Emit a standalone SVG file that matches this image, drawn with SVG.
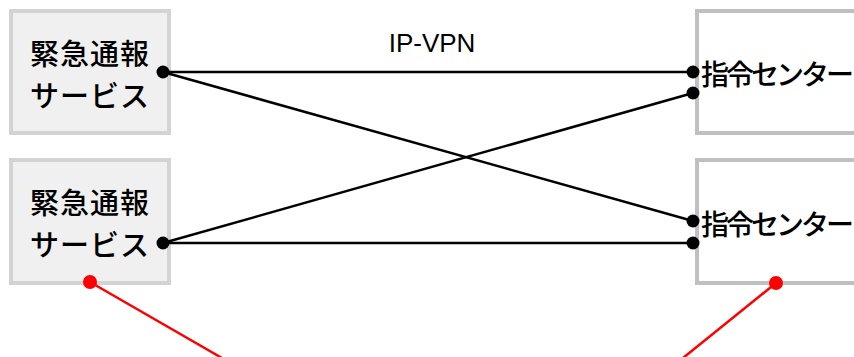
<svg xmlns="http://www.w3.org/2000/svg" width="854" height="357" viewBox="0 0 854 357">
<style>
.svc rect{fill:#f0f0f0;stroke:#d3d3d3;stroke-width:4}
.ctr rect{fill:#ffffff;stroke:#c0c0c0;stroke-width:4}
.svc text{font-family:"Noto Sans CJK JP","Noto Sans",sans-serif;font-size:29px;font-weight:500;letter-spacing:1px;fill:#000;text-anchor:middle}
.ctr text{font-family:"Noto Sans CJK JP","Noto Sans",sans-serif;font-size:28px;font-weight:500;letter-spacing:-3px;fill:#000}
.ln{stroke:#000;stroke-width:2.5;fill:none}
.red{stroke:#ff0000;stroke-width:2.5;fill:none}
.dot{fill:#000}
.rdot{fill:#ff0000}
.lbl{font-family:"Liberation Sans",Arial,sans-serif;font-size:26px;fill:#000;text-anchor:middle}
</style>
<g id="service1" class="svc">
<rect x="11" y="11" width="158" height="122"/>
<text x="90" y="64.5">緊急通報</text>
<text x="90" y="106.5">サービス</text>
</g>
<g id="service2" class="svc">
<rect x="11" y="160" width="158" height="123"/>
<text x="90" y="213.5">緊急通報</text>
<text x="90" y="255.5">サービス</text>
</g>
<g id="center1" class="ctr">
<rect x="697" y="11" width="200" height="122"/>
<text x="701" y="85">指令センター</text>
</g>
<g id="center2" class="ctr">
<rect x="697" y="160" width="200" height="123"/>
<text x="701" y="235">指令センター</text>
</g>
<g id="connectors">
<line class="ln" x1="163" y1="72" x2="693" y2="72"/>
<line class="ln" x1="163" y1="72" x2="693" y2="221"/>
<line class="ln" x1="163" y1="243" x2="693" y2="93"/>
<line class="ln" x1="163" y1="243" x2="693" y2="243"/>
<circle class="dot" cx="163" cy="72" r="6.5"/>
<circle class="dot" cx="163" cy="243" r="6.5"/>
<circle class="dot" cx="693" cy="72" r="6.5"/>
<circle class="dot" cx="693" cy="93" r="6.5"/>
<circle class="dot" cx="693" cy="221" r="6.5"/>
<circle class="dot" cx="693" cy="243" r="6.5"/>
<text class="lbl" x="432" y="52">IP-VPN</text>
<line class="red" x1="90" y1="282" x2="222" y2="358"/>
<line class="red" x1="776" y1="283" x2="683" y2="358"/>
<circle class="rdot" cx="90" cy="282" r="7"/>
<circle class="rdot" cx="776" cy="283" r="7"/>
</g>
</svg>
